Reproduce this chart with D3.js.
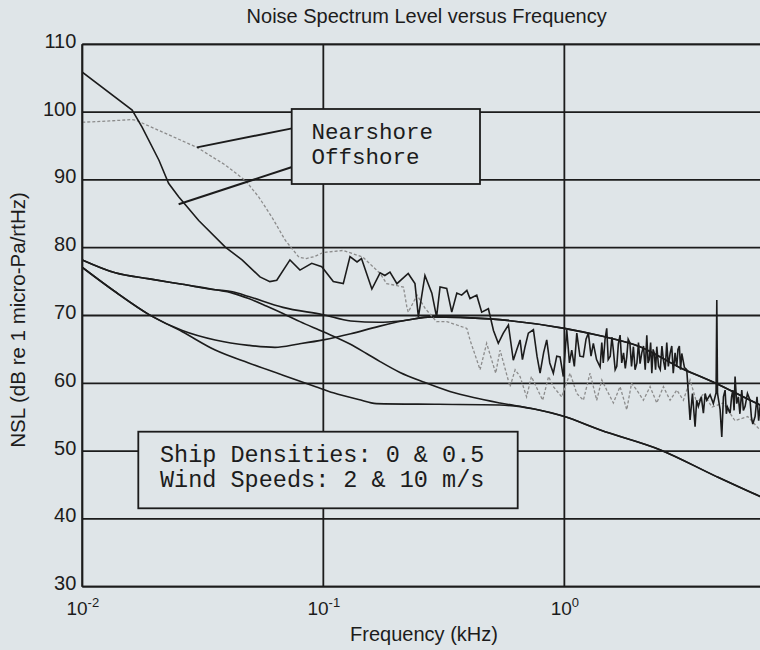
<!DOCTYPE html>
<html>
<head>
<meta charset="utf-8">
<script src="https://cdn.jsdelivr.net/npm/d3@7"></script>
<style>
  html, body { margin: 0; padding: 0; background: #dfe5e8; }
  svg { display: block; }
</style>
</head>
<body>
<svg id="chart" width="760" height="650"></svg>
<script>
// ---------------- data ----------------
const title = "Noise Spectrum Level versus Frequency";
const xLabel = "Frequency (kHz)";
const yLabel = "NSL (dB re 1 micro-Pa/rtHz)";
const yTicks = [30, 40, 50, 60, 70, 80, 90, 100, 110];
const xTicks = [0.01, 0.1, 1];
const xTickExp = ["-2", "-1", "0"];
const legendNames = ["Nearshore", "Offshore"];
const noteLines = ["Ship Densities: 0 & 0.5", "Wind Speeds: 2 & 10 m/s"];

// measured spectra [frequency kHz, level dB]
const nearshore = [
  [0.0100,105.9],[0.0161,100.3],[0.0177,97.8],[0.0208,92.9],[0.0228,89.5],[0.0251,87.5],[0.0304,84.0],
  [0.0392,80.1],[0.0460,78.2],[0.0546,75.7],[0.0600,75.0],[0.0641,75.2],[0.0727,78.2],[0.0800,76.7],
  [0.0895,77.7],[0.0985,77.2],[0.110,75.0],[0.121,74.7],[0.129,78.7],[0.138,77.9],[0.144,78.4],
  [0.159,73.9],[0.172,76.3],[0.180,75.9],[0.189,76.4],[0.202,74.7],[0.225,76.2],[0.240,74.7],
  [0.248,69.8],[0.264,75.9],[0.282,73.3],[0.295,69.8],[0.305,74.2],[0.325,74.0],[0.341,70.5],
  [0.358,73.3],[0.375,73.0],[0.394,73.7],[0.406,72.5],[0.433,73.0],[0.454,70.5],[0.484,71.0],
  [0.508,67.8],[0.532,65.9],[0.558,67.4],[0.586,68.6],[0.614,63.4],[0.635,65.0],[0.655,66.4],
  [0.670,63.5],[0.687,65.4],[0.709,67.4],[0.744,67.9],[0.770,64.0],[0.793,61.5],[0.820,64.5],
  [0.845,66.4],[0.870,63.0],[0.900,61.5],[0.930,64.0],[0.960,63.9],[0.990,61.0],[1.023,67.9],
  [1.050,63.0],[1.073,64.9],[1.100,62.5],[1.126,67.4],[1.160,64.0],[1.199,63.9],[1.230,66.5],
  [1.258,67.4],[1.290,64.0],[1.319,65.9],[1.360,63.5],[1.407,62.4],[1.430,66.0],[1.450,63.0],
  [1.475,66.5],[1.499,68.1],[1.520,63.5],[1.550,64.0],[1.575,66.8],[1.597,64.9],[1.625,62.0],
  [1.650,62.5],[1.675,65.8],[1.703,67.1],[1.730,63.0],[1.760,64.5],[1.790,62.2],[1.815,63.9],
  [1.840,66.5],[1.870,66.0],[1.900,62.5],[1.934,65.4],[1.965,62.0],[2.000,63.0],[2.030,66.0],
  [2.061,62.9],[2.095,64.5],[2.130,65.5],[2.165,62.0],[2.198,67.1],[2.225,63.0],[2.250,63.5],
  [2.280,66.0],[2.306,61.5],[2.335,65.0],[2.360,64.5],[2.390,62.0],[2.418,65.4],[2.460,62.5],
  [2.500,62.0],[2.540,65.5],[2.576,63.4],[2.620,62.0],[2.660,66.0],[2.700,62.5],[2.746,64.4],
  [2.790,65.5],[2.830,61.5],[2.880,64.5],[2.927,62.4],[2.960,65.0],[3.000,65.5],[3.035,62.0],
  [3.070,64.4],[3.150,62.3],[3.220,62.0],[3.323,54.6],[3.400,58.5],[3.486,53.6],[3.540,57.5],
  [3.597,56.6],[3.700,58.0],[3.774,55.6],[3.840,58.5],[3.898,57.5],[4.023,58.3],[4.150,57.0],
  [4.260,58.6],[4.290,72.3],[4.320,58.5],[4.428,56.1],[4.499,52.1],[4.570,58.0],[4.644,59.0],
  [4.700,55.5],[4.750,56.5],[4.871,55.6],[4.940,58.0],[5.000,59.0],[5.060,56.0],[5.108,61.0],
  [5.190,57.0],[5.272,58.0],[5.350,55.5],[5.446,59.0],[5.530,56.0],[5.621,56.6],[5.750,58.5],
  [5.895,57.5],[5.970,55.0],[6.050,54.0],[6.184,55.1],[6.300,58.0],[6.400,54.5],[6.486,56.6],
  [7.000,55.5]
];
const offshore = [
  [0.0100,98.5],[0.0130,98.7],[0.0161,98.9],[0.0167,98.8],[0.0299,94.8],[0.0392,92.2],[0.0475,89.9],
  [0.0539,87.5],[0.0612,84.5],[0.0695,81.1],[0.0792,78.6],[0.085,78.4],[0.092,78.7],[0.100,79.3],
  [0.121,79.6],[0.146,78.6],[0.172,76.2],[0.183,74.7],[0.196,74.5],[0.215,74.2],[0.222,71.3],
  [0.225,70.5],[0.245,73.0],[0.265,71.0],[0.295,69.1],[0.325,69.1],[0.358,68.6],[0.394,68.1],
  [0.406,66.4],[0.447,62.0],[0.476,65.9],[0.519,61.5],[0.541,64.9],[0.595,59.5],[0.625,62.0],
  [0.655,61.0],[0.697,58.0],[0.730,61.0],[0.764,59.5],[0.813,57.5],[0.860,61.0],[0.900,59.5],
  [0.975,58.0],[1.056,61.5],[1.126,58.5],[1.199,57.5],[1.278,61.5],[1.362,57.5],[1.430,60.5],
  [1.499,59.0],[1.597,57.1],[1.703,59.5],[1.815,56.1],[1.900,60.0],[1.997,59.0],[2.127,57.5],
  [2.268,59.5],[2.418,57.1],[2.576,59.5],[2.746,57.5],[2.927,59.0],[3.118,57.5],[3.323,60.5],
  [3.550,57.0],[3.774,58.5],[4.100,56.5],[4.568,57.1],[5.100,54.5],[5.765,55.1],[6.486,53.1],
  [7.000,52.5]
];
// model curves (ship density / wind speed combinations)
const modelA = [
  [0.0100,78.2],[0.0137,76.3],[0.0190,75.4],[0.0260,74.6],[0.0356,73.8],[0.0420,73.5],[0.0490,72.8],
  [0.0680,71.2],[0.1000,70.1],[0.1300,69.2],[0.1700,69.0],[0.2100,69.2],[0.2800,69.8],[0.4900,69.5],
  [1.0000,68.1],[1.4100,67.0],[2.0600,65.4],[3.0200,62.3],[4.1400,60.2],[6.4900,56.8],[7.2000,56.1]
];
const modelB = [
  [0.0100,77.1],[0.0137,73.5],[0.0190,70.1],[0.0260,67.8],[0.0356,66.4],[0.0490,65.6],[0.0630,65.3],
  [0.0790,65.8],[0.1000,66.4],[0.1300,67.3],[0.1700,68.4],[0.2300,69.4],[0.2800,69.8],[0.4900,69.5],
  [1.0000,68.1],[1.4100,67.0],[2.0600,65.4],[3.0200,62.3],[4.1400,60.2],[6.4900,56.8],[7.2000,56.1]
];
const modelC = [
  [0.0100,78.2],[0.0137,76.3],[0.0190,75.4],[0.0260,74.6],[0.0356,73.8],[0.0420,73.3],[0.0490,72.5],
  [0.0580,71.4],[0.0680,70.3],[0.0800,69.1],[0.1000,67.6],[0.1290,65.8],[0.1510,64.4],[0.1720,63.2],
  [0.2080,61.6],[0.2600,60.2],[0.3350,58.8],[0.4200,57.9],[0.5400,57.1],[0.7500,56.2],[1.0000,55.1],
  [1.4100,53.1],[2.4900,50.2],[4.3000,46.2],[6.4900,43.3],[7.2000,42.6]
];
const modelD = [
  [0.0100,77.1],[0.0137,73.5],[0.0190,70.1],[0.0260,67.6],[0.0356,64.9],[0.0490,63.0],[0.0680,61.2],
  [0.0930,59.5],[0.1100,58.6],[0.1400,57.6],[0.1660,57.0],[0.3000,56.9],[0.5400,56.8],[0.7500,56.2],
  [1.0000,55.1],[1.4100,53.1],[2.4900,50.2],[4.3000,46.2],[6.4900,43.3],[7.2000,42.6]
];
// legend pointer lines [frequency, level]
const pointerNear = [[0.0299,94.8],[0.0742,97.6]];
const pointerOff = [[0.0251,86.4],[0.0742,91.9]];

// ---------------- drawing ----------------
const svg = d3.select("#chart");
const W = 760, H = 650;
const pL = 82.3, pR = 771, pT = 44.3, pB = 586.7;
const ink = "#1c1c1c";
const bg = "#dfe5e8";

svg.append("rect").attr("width", W).attr("height", H).attr("fill", bg);

const x = d3.scaleLog().domain([0.01, 7.2]).range([pL, pR]);
const y = d3.scaleLinear().domain([30, 110]).range([pB, pT]);

svg.append("defs").append("clipPath").attr("id", "clip")
  .append("rect").attr("x", pL).attr("y", pT).attr("width", pR - pL).attr("height", pB - pT);

// grid
const grid = svg.append("g");
grid.selectAll("line.h").data(yTicks).join("line")
  .attr("x1", pL).attr("x2", pR)
  .attr("y1", d => y(d)).attr("y2", d => y(d))
  .attr("stroke", ink).attr("stroke-width", 1.8);
grid.selectAll("line.v").data(xTicks).join("line")
  .attr("x1", d => x(d)).attr("x2", d => x(d))
  .attr("y1", pT).attr("y2", pB)
  .attr("stroke", ink).attr("stroke-width", 1.8);
grid.append("line").attr("x1", pR).attr("x2", pR).attr("y1", pT).attr("y2", pB)
  .attr("stroke", ink).attr("stroke-width", 1.8);

// axes tick labels via d3 axis
const yAxis = d3.axisLeft(y).tickValues(yTicks).tickSize(0).tickPadding(6);
const gy = svg.append("g").attr("transform", `translate(${pL},0)`).call(yAxis);
gy.select(".domain").remove();
gy.selectAll("text").attr("font-family", "'Liberation Sans', Arial, sans-serif")
  .attr("font-size", 20).attr("fill", ink).attr("dy", "0.15em");

const xAxis = d3.axisBottom(x).tickValues(xTicks).tickSize(0).tickFormat(() => "");
const gx = svg.append("g").attr("transform", `translate(0,${pB})`).call(xAxis);
gx.select(".domain").remove();
gx.selectAll(".tick text").each(function(d, i) {
  const t = d3.select(this).attr("y", 28).attr("dy", 0)
    .attr("font-family", "'Liberation Sans', Arial, sans-serif")
    .attr("font-size", 19).attr("fill", ink).attr("text-anchor", "middle");
  t.text(null);
  t.append("tspan").text("10");
  t.append("tspan").attr("font-size", 13).attr("dy", -8).text(xTickExp[i]);
});

// model curves
const lineSmooth = d3.line().x(d => x(d[0])).y(d => y(d[1])).curve(d3.curveMonotoneX);
const lineRaw = d3.line().x(d => x(d[0])).y(d => y(d[1]));
const plot = svg.append("g").attr("clip-path", "url(#clip)");

[modelA, modelB, modelC, modelD].forEach(m => {
  plot.append("path").datum(m).attr("d", lineSmooth)
    .attr("fill", "none").attr("stroke", ink).attr("stroke-width", 1.6);
});

plot.append("path").datum(offshore).attr("d", lineRaw)
  .attr("fill", "none").attr("stroke", "#8c8c8c").attr("stroke-width", 1.3)
  .attr("stroke-dasharray", "3,2");

plot.append("path").datum(nearshore).attr("d", lineRaw)
  .attr("fill", "none").attr("stroke", ink).attr("stroke-width", 1.6)
  .attr("stroke-linejoin", "miter");

// frame lines on top
svg.append("line").attr("x1", pL).attr("x2", pR).attr("y1", pT).attr("y2", pT)
  .attr("stroke", ink).attr("stroke-width", 1.8);
svg.append("line").attr("x1", pL).attr("x2", pR).attr("y1", pB).attr("y2", pB)
  .attr("stroke", ink).attr("stroke-width", 1.8);
svg.append("line").attr("x1", pL).attr("x2", pL).attr("y1", pT).attr("y2", pB)
  .attr("stroke", ink).attr("stroke-width", 1.8);

// legend pointers
[pointerNear, pointerOff].forEach(p => {
  svg.append("path").datum(p).attr("d", lineRaw)
    .attr("fill", "none").attr("stroke", ink).attr("stroke-width", 2);
});

// legend box
const mono = "'Liberation Mono', 'DejaVu Sans Mono', monospace";
svg.append("rect").attr("x", 291.7).attr("y", 109).attr("width", 188.3).attr("height", 75)
  .attr("fill", bg).attr("stroke", ink).attr("stroke-width", 1.8);
svg.append("g").selectAll("text").data(legendNames).join("text")
  .attr("x", 311.5).attr("y", (d, i) => 139 + i * 24.5)
  .attr("font-family", mono).attr("font-size", 22.5).attr("fill", ink)
  .text(d => d);

// note box
svg.append("rect").attr("x", 138.3).attr("y", 431.7).attr("width", 379.4).attr("height", 76.6)
  .attr("fill", bg).attr("stroke", ink).attr("stroke-width", 1.8);
svg.append("g").selectAll("text").data(noteLines).join("text")
  .attr("x", 160).attr("y", (d, i) => 461.7 + i * 25.5)
  .attr("font-family", mono).attr("font-size", 23.5).attr("fill", ink)
  .text(d => d);

// titles
svg.append("text").attr("x", (pL + pR) / 2).attr("y", 23.3)
  .attr("text-anchor", "middle").attr("font-family", "'Liberation Sans', Arial, sans-serif")
  .attr("font-size", 20).attr("fill", ink).text(title);
svg.append("text").attr("x", 424).attr("y", 641)
  .attr("text-anchor", "middle").attr("font-family", "'Liberation Sans', Arial, sans-serif")
  .attr("font-size", 20).attr("fill", ink).text(xLabel);
svg.append("text").attr("transform", "translate(25,320) rotate(-90)")
  .attr("text-anchor", "middle").attr("font-family", "'Liberation Sans', Arial, sans-serif")
  .attr("font-size", 20.5).attr("fill", ink).text(yLabel);
</script>
</body>
</html>
